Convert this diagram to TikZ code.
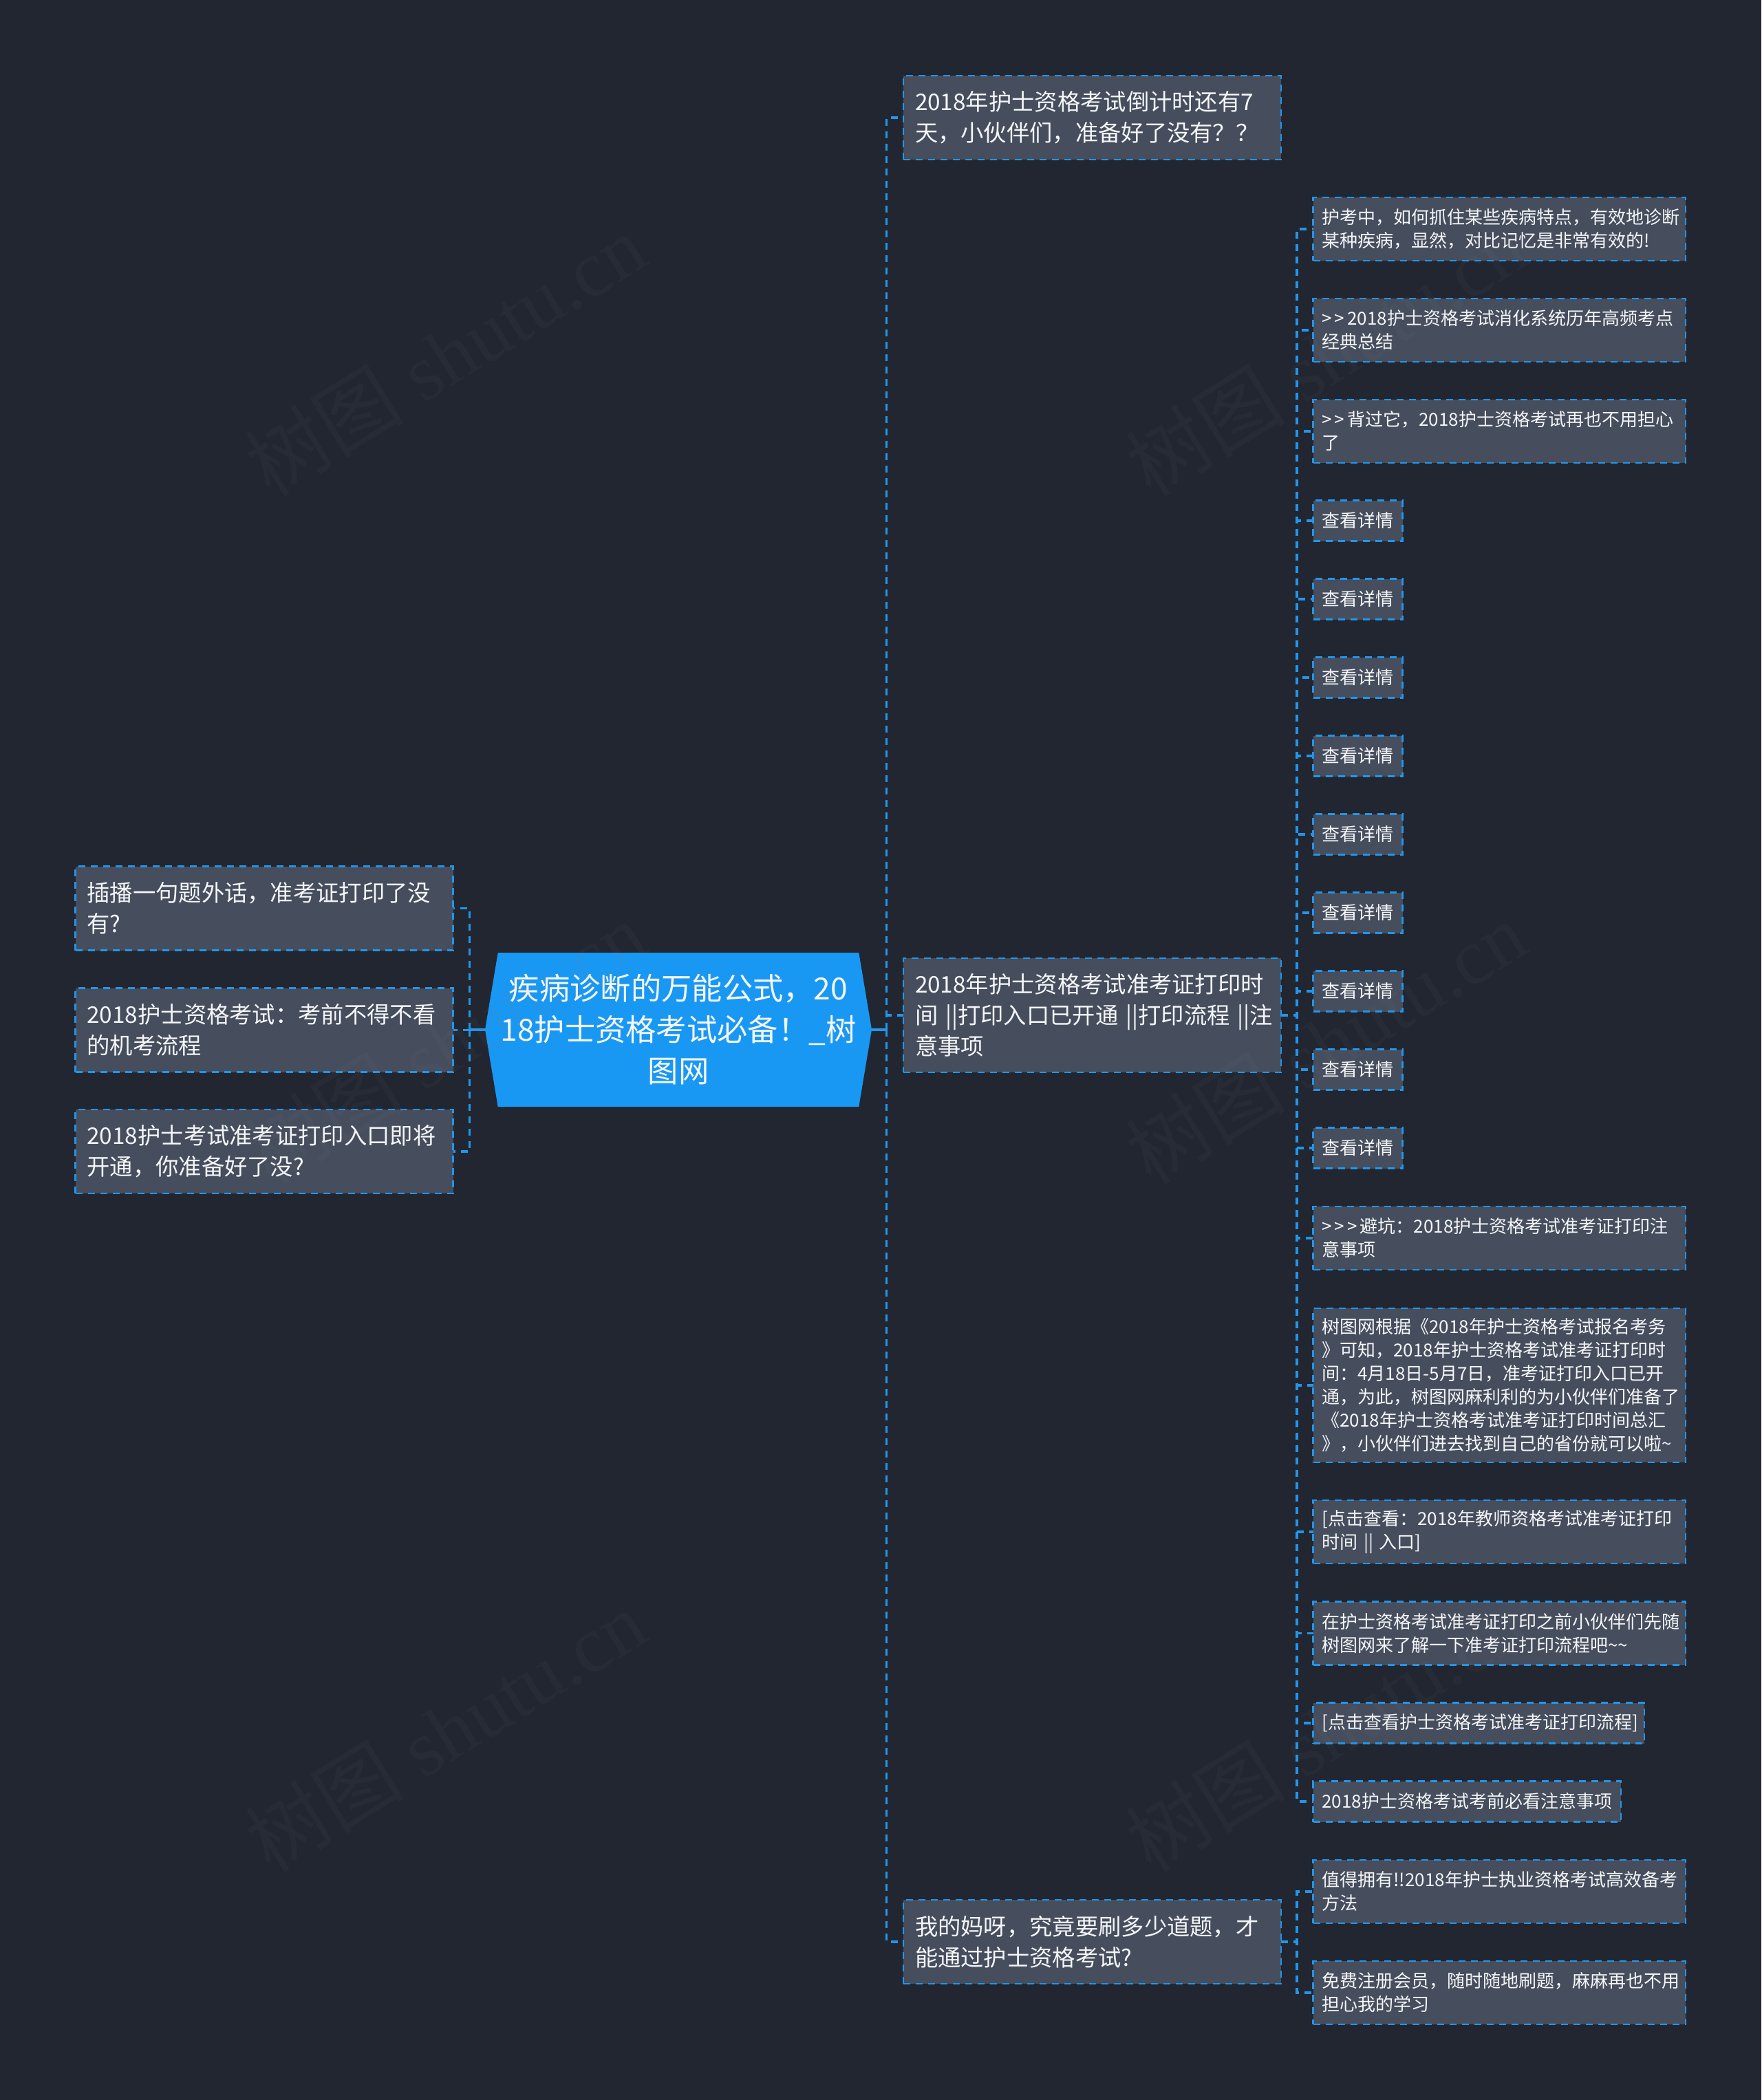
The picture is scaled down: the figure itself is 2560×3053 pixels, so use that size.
\documentclass[tikz,border=0pt]{standalone}
\usepackage{fontspec}
\setmainfont{Noto Sans CJK SC}
\newfontfamily\markfont{Liberation Serif}
\newfontfamily\markcjk{Noto Sans CJK SC}
\usetikzlibrary{shapes.symbols}
\definecolor{pagebg}{RGB}{33,38,49}
\definecolor{boxfill}{RGB}{70,78,94}
\definecolor{linkblue}{RGB}{33,150,235}
\definecolor{mainblue}{RGB}{25,152,243}
\definecolor{textwhite}{RGB}{245,246,248}
\newcommand{\gtsign}{>\kern4pt}
\tikzset{
  link/.style={draw=linkblue, line width=3.2pt, dash pattern=on 10pt off 8pt},
  stub/.style={draw=linkblue, line width=3.2pt},
  mainnode/.style={shape=signal, signal to=west and east, signal pointer angle=161,
    fill=mainblue, text=textwhite, align=center, inner sep=0pt, outer sep=0pt,
    minimum width=562pt, minimum height=224pt, font=\fontsize{44.3}{60}\selectfont},
  boxbase/.style={draw=linkblue, line width=2.5pt, dash pattern=on 10pt off 8pt, fill=boxfill,
    text=textwhite, align=left, anchor=west, inner sep=0pt, outer sep=0pt},
  topic/.style={boxbase, minimum width=549pt, minimum height=122pt, text width=515pt,
    font=\fontsize{33.3}{45}\selectfont},
  leaf/.style={boxbase, minimum width=541.5pt, minimum height=92pt, text width=515.5pt,
    font=\fontsize{26}{34}\selectfont},
  shortleaf/.style={leaf, minimum width=#1, minimum height=59pt, text width=#1-26pt},
  watermark/.style={text=gray, opacity=0.06, rotate=31.7, font=\fontsize{116}{116}\selectfont\markfont}
}
\begin{document}
\begin{tikzpicture}[x=1pt,y=-1pt]
  \useasboundingbox (0,0) rectangle (2560,3053);
  \fill[pagebg] (0,0) rectangle (2560,3053);

  \coordinate (trunkL) at (682.5,1497);
  \coordinate (trunkR) at (1288.5,1497);
  \coordinate (trunkA) at (1885,1476);
  \coordinate (trunkB) at (1885,2823);

  \node[mainnode] (main) at (986,1497) {疾病诊断的万能公式，20\\18护士资格考试必备！\_树\\图网};

  % left side
  \node[topic] (l1) at (109.5,1320.5) {插播一句题外话，准考证打印了没\\有?};
  \node[topic] (l2) at (109.5,1497.5) {2018护士资格考试：考前不得不看\\的机考流程};
  \node[topic] (l3) at (109.5,1674) {2018护士考试准考证打印入口即将\\开通，你准备好了没?};

  % right side
  \node[topic] (r1) at (1313,171) {2018年护士资格考试倒计时还有7\\天，小伙伴们，准备好了没有？？};
  \node[topic, minimum height=166pt] (r2) at (1313,1476) {2018年护士资格考试准考证打印时\\间~||打印入口已开通~||打印流程~||注\\意事项};
  \node[topic] (r3) at (1313,2823) {我的妈呀，究竟要刷多少道题，才\\能通过护士资格考试?};

  % leaves of r2
  \node[leaf] (a1) at (1908.5,333) {护考中，如何抓住某些疾病特点，有效地诊断\\某种疾病，显然，对比记忆是非常有效的!};
  \node[leaf] (a2) at (1908.5,480) {\gtsign\gtsign 2018护士资格考试消化系统历年高频考点\\经典总结};
  \node[leaf] (a3) at (1908.5,627) {\gtsign\gtsign 背过它，2018护士资格考试再也不用担心\\了};
  \foreach \i in {0,...,8}
    \node[shortleaf=130pt] (d\i) at (1908.5,{757+114*\i}) {查看详情};
  \node[leaf] (b1) at (1908.5,1800) {\gtsign\gtsign\gtsign 避坑：2018护士资格考试准考证打印注\\意事项};
  \node[leaf, minimum height=224pt] (b2) at (1908.5,2014) {树图网根据《2018年护士资格考试报名考务\\》可知，2018年护士资格考试准考证打印时\\间：4月18日-5月7日，准考证打印入口已开\\通，为此，树图网麻利利的为小伙伴们准备了\\《2018年护士资格考试准考证打印时间总汇\\》，小伙伴们进去找到自己的省份就可以啦\textasciitilde};
  \node[leaf] (b3) at (1908.5,2227) {{[}点击查看：2018年教师资格考试准考证打印\\时间 || 入口{]}};
  \node[leaf] (b4) at (1908.5,2374.5) {在护士资格考试准考证打印之前小伙伴们先随\\树图网来了解一下准考证打印流程吧\textasciitilde\textasciitilde};
  \node[shortleaf=481.5pt] (b5) at (1908.5,2505) {{[}点击查看护士资格考试准考证打印流程{]}};
  \node[shortleaf=447.5pt] (b6) at (1908.5,2619) {2018护士资格考试考前必看注意事项};

  % leaves of r3
  \node[leaf] (c1) at (1908.5,2750) {值得拥有!!2018年护士执业资格考试高效备考\\方法};
  \node[leaf] (c2) at (1908.5,2897) {免费注册会员，随时随地刷题，麻麻再也不用\\担心我的学习};

  % connectors
  \draw[stub] (main.west) -- (trunkL);
  \draw[stub] (main.east) -- (trunkR);
  \foreach \n in {l1,l2,l3}
    \draw[link] (trunkL) -- (trunkL |- \n.east) -- (\n.east);
  \foreach \n in {r1,r2,r3}
    \draw[link] (trunkR) -- (trunkR |- \n.west) -- (\n.west);
  \foreach \n in {a1,a2,a3,d0,d1,d2,d3,d4,d5,d6,d7,d8,b1,b2,b3,b4,b5,b6}
    \draw[link] (r2.east) -- (trunkA) -- (trunkA |- \n.west) -- (\n.west);
  \foreach \n in {c1,c2}
    \draw[link] (r3.east) -- (trunkB) -- (trunkB |- \n.west) -- (\n.west);

  % watermark
  \foreach \x/\y [count=\k] in {647/516,1927/516,647/1516,1927/1516,647/2516,1927/2516}
    \node[watermark] (mark\k) at (\x,\y) {{\markcjk 树图} shutu.cn};
\end{tikzpicture}
\end{document}
